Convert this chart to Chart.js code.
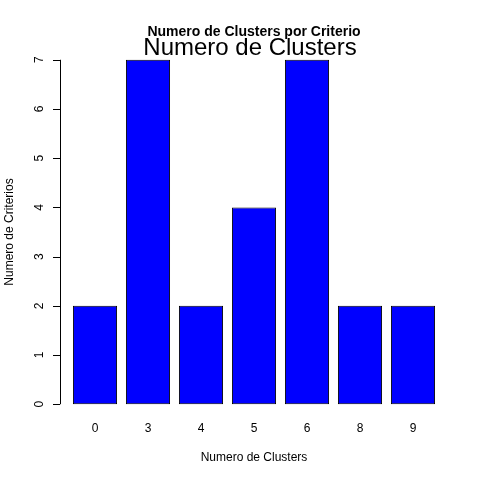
<!DOCTYPE html>
<html>
<head>
<meta charset="utf-8">
<script src="https://cdn.jsdelivr.net/npm/chart.js@4"></script>
<style>
  html, body { margin: 0; padding: 0; background: #fff; }
  #wrap { width: 480px; height: 480px; }
</style>
</head>
<body>
<div id="wrap"><canvas id="chart"></canvas></div>
<script>
const clusters = ['0', '3', '4', '5', '6', '8', '9']
const criterios = [2, 7, 2, 4, 7, 2, 2]
const yTicks = [0, 1, 2, 3, 4, 5, 6, 7]

const font = '"Liberation Sans", Arial, sans-serif'

// dibuja ejes y textos al estilo de R
const rAxes = {
  id: 'rAxes',
  afterDraw(chart) {
    const ctx = chart.ctx
    const y = chart.scales.y
    const x = chart.scales.x
    const axisX = 60
    ctx.save()
    ctx.strokeStyle = '#000'
    ctx.fillStyle = '#000'
    ctx.lineWidth = 1
    ctx.beginPath()
    ctx.moveTo(axisX + 0.5, y.getPixelForValue(0))
    ctx.lineTo(axisX + 0.5, y.getPixelForValue(7))
    yTicks.forEach(t => {
      const py = Math.round(y.getPixelForValue(t)) + 0.5
      ctx.moveTo(axisX, py)
      ctx.lineTo(axisX - 7, py)
    })
    ctx.stroke()

    ctx.font = '12px ' + font
    ctx.textAlign = 'center'
    ctx.textBaseline = 'middle'
    yTicks.forEach(t => {
      ctx.save()
      ctx.translate(40, y.getPixelForValue(t))
      ctx.rotate(-Math.PI / 2)
      ctx.fillText(String(t), 0, 0)
      ctx.restore()
    })
    clusters.forEach((c, i) => {
      ctx.fillText(c, x.getPixelForValue(i), 429)
    })
    ctx.fillText('Numero de Clusters', 254, 458)
    ctx.save()
    ctx.translate(10, 232)
    ctx.rotate(-Math.PI / 2)
    ctx.fillText('Numero de Criterios', 0, 0)
    ctx.restore()

    ctx.font = 'bold 14px ' + font
    ctx.fillText('Numero de Clusters por Criterio', 254, 32)
    ctx.font = '24px ' + font
    ctx.fillText('Numero de Clusters', 250, 48)
    ctx.restore()
  }
}

new Chart(document.getElementById('chart'), {
  type: 'bar',
  data: {
    labels: clusters,
    datasets: [{
      data: criterios,
      backgroundColor: '#0000ff',
      borderColor: '#000',
      borderWidth: 1,
      borderSkipped: false,
      categoryPercentage: 1,
      barPercentage: 0.833
    }]
  },
  options: {
    responsive: true,
    maintainAspectRatio: false,
    animation: false,
    layout: { padding: { top: 46, bottom: 62, left: 68.5, right: 40.5 } },
    scales: {
      x: { display: false },
      y: { display: false, min: -0.28, max: 7.28 }
    },
    plugins: {
      legend: { display: false },
      tooltip: { enabled: false }
    }
  },
  plugins: [rAxes]
})
</script>
</body>
</html>
